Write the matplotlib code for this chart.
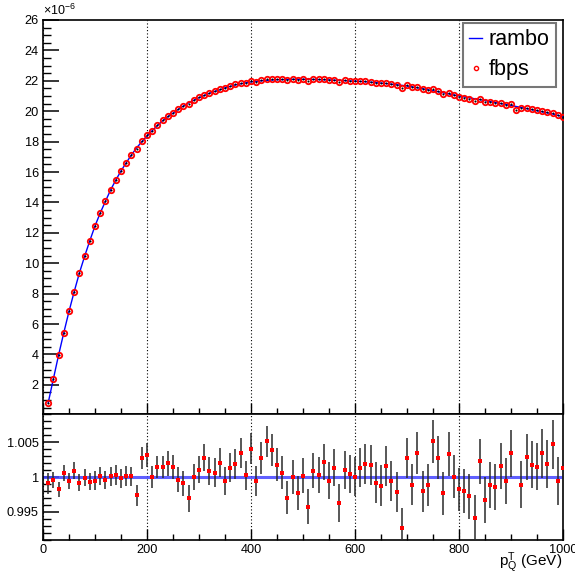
import numpy as np
import matplotlib
matplotlib.use("Agg")
import matplotlib.pyplot as plt
from matplotlib.ticker import MultipleLocator, FixedLocator
from matplotlib.lines import Line2D

plt.rcParams['font.family'] = ['Liberation Sans', 'DejaVu Sans']
plt.rcParams['mathtext.fontset'] = 'custom'
plt.rcParams['mathtext.rm'] = 'Liberation Sans'
plt.rcParams['mathtext.it'] = 'Liberation Sans:italic'
plt.rcParams['mathtext.sf'] = 'Liberation Sans'

# ---------------- data ----------------
pt = list(range(10, 1001, 10))

# rambo distribution (units of 1e-6)
rambo = [0.82, 2.40, 3.96, 5.43, 6.83, 8.13, 9.36, 10.45, 11.48, 12.45,
         13.30, 14.07, 14.82, 15.47, 16.07, 16.61, 17.12, 17.59, 17.99, 18.37,
         18.72, 19.06, 19.37, 19.64, 19.87, 20.12, 20.34, 20.55, 20.72, 20.89,
         21.03, 21.18, 21.30, 21.40, 21.54, 21.63, 21.73, 21.80, 21.87, 21.93,
         21.96, 22.00, 22.03, 22.05, 22.07, 22.08, 22.09, 22.10, 22.10, 22.10,
         22.10, 22.09, 22.08, 22.07, 22.06, 22.04, 22.03, 22.01, 21.99, 21.98,
         21.96, 21.94, 21.91, 21.88, 21.85, 21.82, 21.78, 21.74, 21.70, 21.66,
         21.60, 21.54, 21.48, 21.41, 21.35, 21.28, 21.21, 21.14, 21.07, 21.00,
         20.94, 20.88, 20.82, 20.76, 20.70, 20.63, 20.57, 20.50, 20.44, 20.38,
         20.31, 20.24, 20.17, 20.10, 20.03, 19.96, 19.89, 19.82, 19.73, 19.62]

# fbps / rambo ratio
ratio = [0.99909, 0.99962, 0.99822, 1.00058, 0.99947, 1.00091, 0.99918, 0.99990, 0.99933, 0.99950,
         1.00010, 0.99962, 1.00010, 1.00029, 0.99980, 1.00014, 1.00010, 0.99736, 1.00274, 1.00317,
         1.00000, 1.00144, 1.00144, 1.00197, 1.00139, 0.99962, 0.99909, 0.99693, 1.00000, 1.00106,
         1.00278, 1.00086, 1.00062, 1.00206, 0.99947, 1.00134, 1.00187, 1.00341, 1.00024, 1.00403,
         0.99938, 1.00274, 1.00509, 1.00384, 1.00178, 1.00062, 0.99707, 1.00005, 0.99774, 1.00019,
         0.99573, 1.00091, 1.00029, 1.00211, 0.99947, 1.00134, 0.99630, 1.00101, 1.00043, 1.00005,
         1.00134, 1.00187, 1.00173, 0.99918, 0.99875, 1.00158, 0.99947, 0.99789, 0.99275, 1.00274,
         0.99890, 1.00341, 0.99794, 0.99885, 1.00509, 1.00274, 0.99770, 1.00331, 1.00005, 0.99822,
         0.99794, 0.99722, 0.99410, 1.00226, 0.99674, 0.99885, 0.99861, 1.00163, 0.99942, 1.00336,
         0.98890, 0.99890, 1.00288, 1.00178, 1.00149, 1.00336, 1.00187, 1.00466, 0.99947, 1.00125]

ratio_err = [0.00149, 0.00113, 0.00110, 0.00115, 0.00113, 0.00118, 0.00120, 0.00120, 0.00125, 0.00130,
             0.00130, 0.00130, 0.00137, 0.00139, 0.00134, 0.00142, 0.00139, 0.00154, 0.00156, 0.00168,
             0.00161, 0.00158, 0.00163, 0.00178, 0.00173, 0.00178, 0.00180, 0.00190, 0.00192, 0.00197,
             0.00197, 0.00197, 0.00206, 0.00202, 0.00202, 0.00206, 0.00214, 0.00214, 0.00211, 0.00221,
             0.00216, 0.00226, 0.00226, 0.00226, 0.00233, 0.00238, 0.00238, 0.00242, 0.00245, 0.00250,
             0.00250, 0.00254, 0.00257, 0.00259, 0.00262, 0.00266, 0.00269, 0.00269, 0.00274, 0.00276,
             0.00276, 0.00283, 0.00283, 0.00290, 0.00290, 0.00288, 0.00283, 0.00286, 0.00288, 0.00290,
             0.00290, 0.00295, 0.00298, 0.00298, 0.00302, 0.00307, 0.00307, 0.00310, 0.00310, 0.00312,
             0.00314, 0.00319, 0.00330, 0.00322, 0.00324, 0.00324, 0.00329, 0.00329, 0.00331, 0.00331,
             0.00180, 0.00336, 0.00331, 0.00336, 0.00341, 0.00346, 0.00343, 0.00348, 0.00343, 0.00348]

xticks_major = [0, 200, 400, 600, 800, 1000]
xtick_labels = ['0', '200', '400', '600', '800', '1000']
yticks_top = [2, 4, 6, 8, 10, 12, 14, 16, 18, 20, 22, 24, 26]
yticks_ratio = [0.995, 1.0, 1.005]
ytick_ratio_labels = ['0.995', '1', '1.005']

x = np.array(pt, dtype=float)
rambo_a = np.array(rambo)
ratio_a = np.array(ratio)
fbps = rambo_a * ratio_a

# ---------------- figure ----------------
W, H = 575, 574
fig = plt.figure(figsize=(W / 100, H / 100), dpi=100)
L, R = 43, 563
ax1 = fig.add_axes([L / W, 1 - 414 / H, (R - L) / W, (414 - 20) / H])
ax2 = fig.add_axes([L / W, 1 - 540 / H, (R - L) / W, (540 - 414) / H])

BLUE = '#0000ff'
RED = '#ff0000'

# top panel
ax1.plot(x, rambo_a, color=BLUE, lw=1.0, zorder=3)
ax1.plot(x, fbps, ls='none', marker='o', ms=3.9, mfc='none', mec=RED, mew=1.3, zorder=4)
ax1.plot(x, fbps, ls='none', marker='o', ms=1.5, mfc='black', mec='black', mew=0, zorder=5)
ax1.set_xlim(0, 1000)
ax1.set_ylim(0.08, 26)

# ratio panel
ax2.axhline(1.0, color='#4444ff', lw=2.2, alpha=0.85, zorder=2)
ax2.errorbar(x, ratio_a, yerr=ratio_err, fmt='s', ms=3.4, mfc=RED, mec=RED, mew=0,
             ecolor='#2a2a2a', elinewidth=1.1, capsize=1.8, capthick=1.0, zorder=3)
ax2.set_xlim(0, 1000)
ax2.set_ylim(0.991, 1.009)

for ax in (ax1, ax2):
    ax.xaxis.set_major_locator(FixedLocator(xticks_major))
    ax.xaxis.set_minor_locator(MultipleLocator(50))
    ax.grid(axis='x', which='major', ls=(0, (1, 2)), color='black', lw=0.8)
    for sp in ax.spines.values():
        sp.set_linewidth(1.2)
    ax.tick_params(axis='both', which='both', direction='in', top=False, right=False,
                   colors='black', labelsize=9.2)
    ax.tick_params(axis='x', which='major', length=8, width=1.0)
    ax.tick_params(axis='x', which='minor', length=4, width=1.0)
    ax.tick_params(axis='y', which='major', length=11.5, width=1.1, pad=3)
    ax.tick_params(axis='y', which='minor', length=5.8, width=1.0)

ax1.set_yticks(yticks_top)
ax1.set_yticklabels([str(v) for v in yticks_top])
ax1.yaxis.set_minor_locator(MultipleLocator(0.5))
ax1.tick_params(axis='x', labelbottom=False)

ax2.set_yticks(yticks_ratio)
ax2.set_yticklabels(ytick_ratio_labels)
ax2.yaxis.set_minor_locator(MultipleLocator(0.001))
ax2.set_xticks(xticks_major)
ax2.set_xticklabels(xtick_labels)
ax2.tick_params(axis='x', pad=3)

# exponent
ax1.text(0.0, 1.006, r'$\mathregular{\times10^{-6}}$', transform=ax1.transAxes,
         ha='left', va='bottom', fontsize=9)

# x label
fig.text((R - 1) / W, 1 - 566 / H, r'$\mathregular{p_{Q}^{T}}$ (GeV)', ha='right', va='baseline',
         fontsize=11)

# legend
handles = [Line2D([], [], color=BLUE, lw=1.0),
           Line2D([], [], ls='none', marker='o', ms=3.0, mfc='none', mec=RED, mew=1.0)]
leg = ax1.legend(handles, ['rambo', 'fbps'], loc='upper right',
                 bbox_to_anchor=((556 - L) / (R - L), 1 - (23 - 20) / 394),
                 borderaxespad=0, fontsize=15.5, frameon=True, fancybox=False,
                 handlelength=0.6, handletextpad=0.3, borderpad=0.3,
                 labelspacing=0.4)
leg.get_frame().set_edgecolor('#555555')
leg.get_frame().set_linewidth(1.5)

fig.savefig('out.png', dpi=100)
